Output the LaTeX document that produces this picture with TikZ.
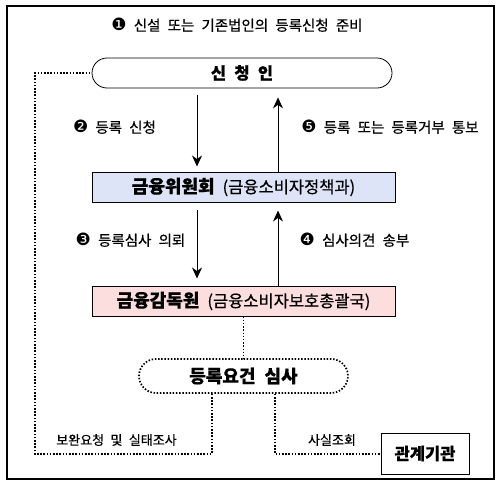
\documentclass[tikz,border=0pt]{standalone}
\usepackage{fontspec}
\setmainfont{Noto Sans CJK KR}[WordSpace=2.2, FakeBold=0.6]
\newfontfamily\djv{DejaVu Sans}
\usetikzlibrary{shapes.misc,arrows.meta}
\newcommand\cnum[1]{{\djv\fontsize{17}{17}\selectfont #1}}
\definecolor{fscblue}{HTML}{DDE4F8}
\definecolor{fsspink}{HTML}{FDDEDE}
\tikzset{
  lbl/.style={inner sep=0pt, font=\fontsize{14.5}{16}\selectfont},
  smalllbl/.style={inner sep=0pt, font=\fontsize{13}{15}\selectfont},
  orgbox/.style={draw, line width=1pt, minimum width=303pt, minimum height=30pt, inner sep=0pt},
  arr/.style={line width=1pt, -{Stealth[length=11pt,width=10pt]}},
  dots/.style={line width=1.7pt, dash pattern=on 1.5pt off 1.7pt},
}
\begin{document}
\begin{tikzpicture}[x=1pt,y=-1pt]
\useasboundingbox (0,0) rectangle (503,483);
\draw[line width=1.2pt] (7,6) rectangle (494,479);

\node[lbl] (title) at (237,25) {\cnum{❶} 신설 또는 기존법인의 등록신청 준비};

\node[rounded rectangle, draw, line width=0.8pt, minimum width=300pt, minimum height=30pt, inner sep=0pt,
      font=\fontsize{16.5}{18}\selectfont\bfseries] (app) at (242,73) {신 청 인};

\node[orgbox, fill=fscblue] (fsc) at (243.5,187)
  {{\fontsize{18}{19}\selectfont\bfseries 금융위원회}\hspace{8pt}{\fontsize{16.5}{17}\selectfont (금융소비자정책과)}};
\node[orgbox, fill=fsspink] (fss) at (243.5,301)
  {{\fontsize{18}{19}\selectfont\bfseries 금융감독원}\hspace{8pt}{\fontsize{16.5}{17}\selectfont (금융소비자보호총괄국)}};

\node[rounded rectangle, dots, draw, minimum width=209pt, minimum height=34pt, inner sep=0pt,
      font=\fontsize{18}{19}\selectfont\bfseries] (rev) at (243.5,376) {등록요건 심사};

\node[draw, line width=1pt, minimum width=88pt, minimum height=41pt, inner sep=0pt,
      font=\fontsize{16.5}{18}\selectfont\bfseries] (rel) at (425,453.5) {관계기관};

\coordinate (cL) at (197,0);
\coordinate (cR) at (278,0);
\draw[arr] ([yshift=-7pt]app.south -| cL) -- ([yshift=5pt]fsc.north -| cL);
\draw[arr] (fsc.north -| cR) -- ([yshift=-9pt]app.south -| cR);
\draw[arr] ([yshift=-7pt]fsc.south -| cL) -- ([yshift=7pt]fss.north -| cL);
\draw[arr] (fss.north -| cR) -- ([yshift=-8pt]fsc.south -| cR);

\node[lbl] (l2) at (114.5,127) {\cnum{❷} 등록 신청};
\node[lbl] (l5) at (390,127) {\cnum{❺} 등록 또는 등록거부 통보};
\node[lbl] (l3) at (130.5,240) {\cnum{❸} 등록심사 의뢰};
\node[lbl] (l4) at (354.5,240) {\cnum{❹} 심사의견 송부};

\draw[dots] (fss.south) -- (rev.north);
\coordinate (p1) at (212,454);
\coordinate (p2) at (35,454);
\coordinate (p3) at (275,454);
\draw[dots] (rev.south -| p1) -- (p1) -- (p2) |- (app.west);
\draw[dots] (rev.south -| p3) -- (p3) -- (p3 -| rel.west);

\node[smalllbl] (l6) at (116.5,440) {보완요청 및 실태조사};
\node[smalllbl] (l7) at (332,440) {사실조회};
\end{tikzpicture}
\end{document}
